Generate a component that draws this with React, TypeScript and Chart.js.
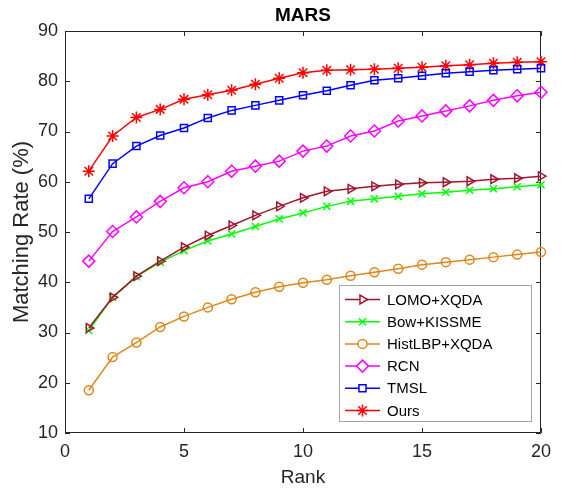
import React, { useEffect, useRef } from "react";
import { Chart, registerables } from "chart.js";
import { drawPoint } from "chart.js/helpers";

Chart.register(...registerables);

const ranks = [1, 2, 3, 4, 5, 6, 7, 8, 9, 10, 11, 12, 13, 14, 15, 16, 17, 18, 19, 20];
const lomoXqda = [30.9, 37, 41.2, 44.2, 47, 49.3, 51.3, 53.3, 55.1, 56.8, 58.1, 58.6, 59.1, 59.5, 59.8, 59.9, 60.1, 60.5, 60.7, 61.1];
const bowKissme = [30.4, 37, 41.1, 44, 46.3, 48.2, 49.6, 51.1, 52.6, 53.8, 55.1, 56.1, 56.6, 57.1, 57.6, 57.9, 58.3, 58.6, 59, 59.4];
const histLbpXqda = [18.5, 25.1, 28, 31.1, 33.2, 35, 36.6, 38, 39.1, 39.9, 40.5, 41.3, 42, 42.7, 43.5, 44, 44.5, 45, 45.5, 46];
const rcn = [44.2, 50.1, 53, 56.1, 58.8, 60, 62.1, 63.1, 64.1, 66.1, 67.1, 69.1, 70.1, 72.1, 73.1, 74.1, 75.1, 76.2, 77.1, 77.8];
const tmsl = [56.6, 63.6, 67.1, 69.2, 70.7, 72.7, 74.2, 75.2, 76.2, 77.2, 78.1, 79.2, 80.2, 80.6, 81.1, 81.6, 81.9, 82.2, 82.4, 82.6];
const ours = [62.1, 69.1, 72.8, 74.4, 76.4, 77.3, 78.2, 79.4, 80.6, 81.7, 82.2, 82.3, 82.4, 82.6, 82.8, 83.1, 83.3, 83.6, 83.8, 83.9];

const xTicks = [0, 5, 10, 15, 20];
const yTicks = [10, 20, 30, 40, 50, 60, 70, 80, 90];

const seriesNames = ["LOMO+XQDA", "Bow+KISSME", "HistLBP+XQDA", "RCN", "TMSL", "Ours"];
const seriesValues = [lomoXqda, bowKissme, histLbpXqda, rcn, tmsl, ours];
const seriesColors = ["#A2142F", "#00FF00", "#E0861A", "#FF00FF", "#0000FF", "#FF0000"];
const seriesStyles = ["triangle", "crossRot", "circle", "rectRot", "rect", "star"];
const seriesRotation = [90, 0, 0, 0, 0, 0];
const seriesRadius = [5, 5, 4.5, 6, 5, 6];

const AXIS_COLOR = "#262626";
const FONT = "'Liberation Sans', Arial, Helvetica, sans-serif";

const framePlugin = {
  id: "matlabFrame",
  beforeDatasetsDraw(chart: any) {
    const { ctx, chartArea } = chart;
    const { left, right, top, bottom } = chartArea;
    const xs = chart.scales.x;
    const ys = chart.scales.y;
    ctx.save();
    ctx.strokeStyle = AXIS_COLOR;
    ctx.lineWidth = 1;
    ctx.beginPath();
    ctx.rect(left + 0.5, top + 0.5, right - left - 1, bottom - top - 1);
    ctx.stroke();
    const tl = 5;
    ctx.beginPath();
    xTicks.forEach((v) => {
      const px = Math.round(xs.getPixelForValue(v)) + 0.5;
      ctx.moveTo(px, bottom);
      ctx.lineTo(px, bottom - tl);
      ctx.moveTo(px, top);
      ctx.lineTo(px, top + tl);
    });
    yTicks.forEach((v) => {
      const py = Math.round(ys.getPixelForValue(v)) + 0.5;
      ctx.moveTo(left, py);
      ctx.lineTo(left + tl, py);
      ctx.moveTo(right, py);
      ctx.lineTo(right - tl, py);
    });
    ctx.stroke();
    ctx.restore();
  },
  afterDraw(chart: any) {
    const { ctx, chartArea } = chart;
    ctx.save();
    // title
    ctx.fillStyle = "#000000";
    ctx.font = `bold 19px ${FONT}`;
    ctx.textAlign = "center";
    ctx.textBaseline = "middle";
    ctx.fillText("MARS", (chartArea.left + chartArea.right) / 2, 16);

    // legend
    const bx = 339.5, by = 285.5, bw = 192, bh = 136;
    ctx.fillStyle = "#ffffff";
    ctx.fillRect(bx, by, bw, bh);
    ctx.strokeStyle = "#a6a6a6";
    ctx.lineWidth = 1;
    ctx.strokeRect(bx, by, bw, bh);
    ctx.font = `15px ${FONT}`;
    ctx.textAlign = "left";
    ctx.textBaseline = "middle";
    seriesNames.forEach((name, i) => {
      const cy = 299.5 + i * 22.2;
      const x0 = 345, x1 = 380;
      ctx.strokeStyle = seriesColors[i];
      ctx.lineWidth = 1.5;
      ctx.beginPath();
      ctx.moveTo(x0, cy);
      ctx.lineTo(x1, cy);
      ctx.stroke();
      ctx.fillStyle = "#ffffff";
      drawPoint(ctx, {
        pointStyle: seriesStyles[i],
        rotation: seriesRotation[i],
        radius: seriesRadius[i],
        borderWidth: 1.5,
      } as any, (x0 + x1) / 2, cy);
      ctx.fillStyle = "#000000";
      ctx.fillText(name, 387, cy + 1);
    });
    ctx.restore();
  },
};

export default function App() {
  const ref = useRef<HTMLCanvasElement | null>(null);
  useEffect(() => {
    if (!ref.current) return;
    const datasets = seriesNames.map((name, i) => ({
      label: name,
      data: ranks.map((r, j) => ({ x: r, y: seriesValues[i][j] })),
      borderColor: seriesColors[i],
      backgroundColor: seriesColors[i],
      borderWidth: 1.5,
      pointStyle: seriesStyles[i],
      pointRotation: seriesRotation[i],
      pointRadius: seriesRadius[i],
      pointBorderWidth: 1.5,
      pointBorderColor: seriesColors[i],
      pointBackgroundColor: "rgba(255,255,255,0)",
      tension: 0,
      clip: false as any,
    }));
    const chart = new Chart(ref.current, {
      type: "line",
      data: { datasets },
      options: {
        animation: false,
        responsive: false,
        maintainAspectRatio: false,
        layout: { padding: { left: 0, top: 31, right: 20, bottom: 0 } },
        plugins: {
          legend: { display: false },
          title: { display: false },
          tooltip: { enabled: false },
        },
        scales: {
          x: {
            type: "linear",
            min: 0,
            max: 20,
            afterFit: (s: any) => { s.height = 56; },
            afterBuildTicks: (s: any) => { s.ticks = xTicks.map((v) => ({ value: v })); },
            grid: { display: false, drawTicks: false },
            border: { display: false },
            ticks: {
              color: AXIS_COLOR,
              font: { family: FONT, size: 18 },
              padding: 8,
              maxRotation: 0,
            },
            title: {
              display: true,
              text: "Rank",
              color: AXIS_COLOR,
              font: { family: FONT, size: 19 },
              padding: { top: 0, bottom: 0 },
            },
          },
          y: {
            type: "linear",
            min: 10,
            max: 90,
            afterFit: (s: any) => { s.width = 65; },
            afterBuildTicks: (s: any) => { s.ticks = yTicks.map((v) => ({ value: v })); },
            grid: { display: false, drawTicks: false },
            border: { display: false },
            ticks: {
              color: AXIS_COLOR,
              font: { family: FONT, size: 18 },
              padding: 7,
            },
            title: {
              display: true,
              text: "Matching Rate (%)",
              color: AXIS_COLOR,
              font: { family: FONT, size: 22 },
              padding: { top: 9, bottom: 0 },
            },
          },
        },
      },
      plugins: [framePlugin],
    });
    return () => chart.destroy();
  }, []);
  return (
    <div style={{ position: "fixed", left: 0, top: 0, width: 561, height: 489, background: "#ffffff" }}>
      <canvas ref={ref} width={561} height={489} style={{ width: 561, height: 489, display: "block" }} />
    </div>
  );
}
